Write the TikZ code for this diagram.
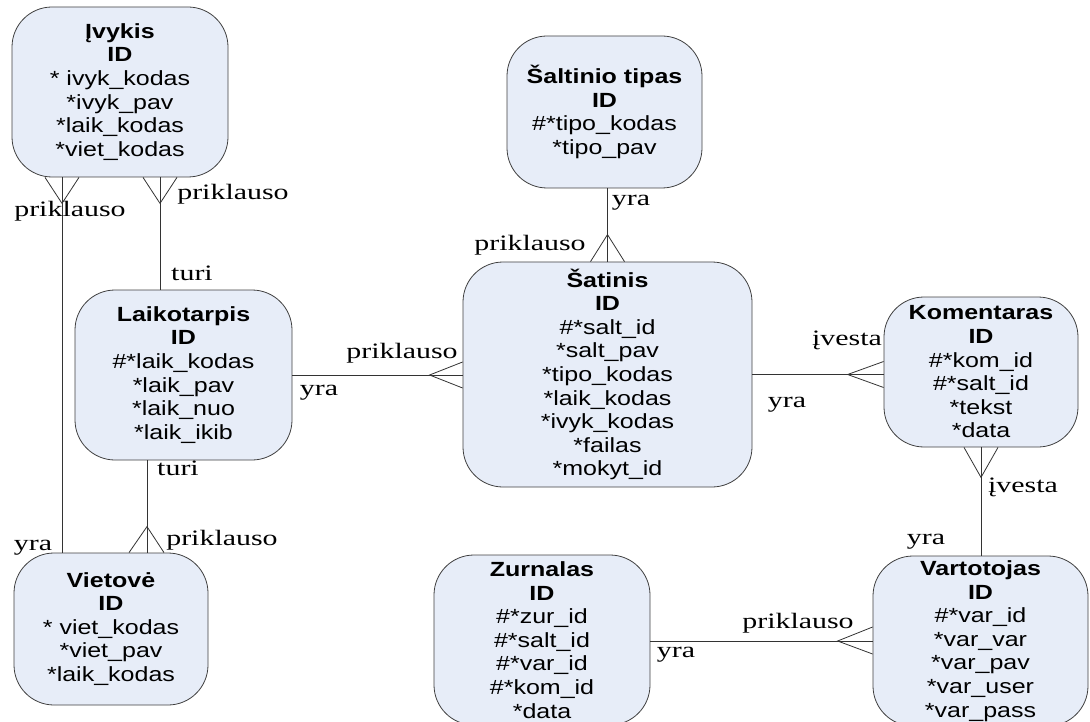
\documentclass[tikz,border=0pt]{standalone}
\usepackage{fontspec}
\setmainfont[FakeStretch=1.36]{Liberation Serif}
\setsansfont[FakeStretch=1.22]{Liberation Sans}
\usetikzlibrary{calc}

\definecolor{entfill}{RGB}{231,237,248}
\tikzset{
    entity/.style={draw=black!75, line width=0.8pt, fill=entfill, rounded corners=40pt,
        align=center, inner sep=0pt, font=\sffamily\fontsize{20.5}{23.6}\selectfont},
    rel/.style={draw=black!80, line width=0.8pt},
    lbl/.style={inner sep=0pt, text height=14.8pt, text depth=4.8pt,
        font=\fontsize{22}{24}\selectfont}
}

\begin{document}
\begin{tikzpicture}[x=1pt, y=-1pt]
    \useasboundingbox (0,0) rectangle (1090,722);

    % Entities
    \node[entity, minimum width=216pt, minimum height=170pt] (ivy) at (120,92)
        {\textbf{Įvykis}\\\textbf{ID}\\* ivyk\_kodas\\*ivyk\_pav\\*laik\_kodas\\*viet\_kodas};
    \node[entity, minimum width=217pt, minimum height=170pt] (lai) at (183.5,375)
        {\textbf{Laikotarpis}\\\textbf{ID}\\\#*laik\_kodas\\*laik\_pav\\*laik\_nuo\\*laik\_ikib};
    \node[entity, minimum width=194pt, minimum height=152pt] (vie) at (111,629)
        {\textbf{Vietovė}\\\textbf{ID}\\* viet\_kodas\\*viet\_pav\\*laik\_kodas};
    \node[entity, minimum width=195pt, minimum height=152pt] (sal) at (604.5,112)
        {\textbf{Šaltinio tipas}\\\textbf{ID}\\\#*tipo\_kodas\\*tipo\_pav};
    \node[entity, minimum width=289pt, minimum height=225pt] (sat) at (607.5,374.5)
        {\textbf{Šatinis}\\\textbf{ID}\\\#*salt\_id\\*salt\_pav\\*tipo\_kodas\\*laik\_kodas\\*ivyk\_kodas\\*failas\\*mokyt\_id};
    \node[entity, minimum width=194pt, minimum height=150pt] (kom) at (981,372)
        {\textbf{Komentaras}\\\textbf{ID}\\\#*kom\_id\\\#*salt\_id\\*tekst\\*data};
    \node[entity, minimum width=216pt, minimum height=170pt] (zur) at (542,640)
        {\textbf{Zurnalas}\\\textbf{ID}\\\#*zur\_id\\\#*salt\_id\\\#*var\_id\\\#*kom\_id\\*data};
    \node[entity, minimum width=215pt, minimum height=170pt] (var) at (980.5,641)
        {\textbf{Vartotojas}\\\textbf{ID}\\\#*var\_id\\*var\_var\\*var\_pav\\*var\_user\\*var\_pass};

    % Ivykis - Vietove
    \draw[rel] ($(ivy.south)+(-58,0)$) -- ($(vie.north)+(-49,0)$);
    \draw[rel] ($(ivy.south)+(-75,0)$) -- ($(ivy.south)+(-58,26)$) -- ($(ivy.south)+(-41,0)$);
    \node[lbl] (ivy-vie-a) at (70,212) {priklauso};
    \node[lbl] (ivy-vie-b) at (33,545) {yra};

    % Ivykis - Laikotarpis
    \draw[rel] ($(ivy.south)+(40,0)$) -- ($(lai.north)+(-23.5,0)$);
    \draw[rel] ($(ivy.south)+(23,0)$) -- ($(ivy.south)+(40,26)$) -- ($(ivy.south)+(57,0)$);
    \node[lbl] (ivy-lai-a) at (233,195) {priklauso};
    \node[lbl] (ivy-lai-b) at (192,275) {turi};

    % Laikotarpis - Vietove
    \draw[rel] ($(lai.south)+(-36.5,0)$) -- ($(vie.north)+(36,0)$);
    \draw[rel] ($(vie.north)+(18,0)$) -- ($(vie.north)+(36,-26)$) -- ($(vie.north)+(53,0)$);
    \node[lbl] (lai-vie-a) at (178,470) {turi};
    \node[lbl] (lai-vie-b) at (222,540) {priklauso};

    % Laikotarpis - Satinis
    \draw[rel] (lai.east) -- (lai.east -| sat.west);
    \draw[rel] ($(lai.east -| sat.west)+(0,-13)$) -- ($(lai.east -| sat.west)+(-33,0)$) -- ($(lai.east -| sat.west)+(0,13)$);
    \node[lbl] (lai-sat-a) at (402,353) {priklauso};
    \node[lbl] (lai-sat-b) at (319,390) {yra};

    % Saltinio tipas - Satinis
    \draw[rel] (sat.north |- sal.south) -- (sat.north);
    \draw[rel] ($(sat.north)+(-17,0)$) -- ($(sat.north)+(0,-27)$) -- ($(sat.north)+(17,0)$);
    \node[lbl] (sal-sat-a) at (631,201) {yra};
    \node[lbl] (sal-sat-b) at (530,246) {priklauso};

    % Satinis - Komentaras
    \draw[rel] (sat.east) -- (sat.east -| kom.west);
    \draw[rel] ($(sat.east -| kom.west)+(0,-13)$) -- ($(sat.east -| kom.west)+(-36,0)$) -- ($(sat.east -| kom.west)+(0,13)$);
    \node[lbl] (sat-kom-a) at (847,340) {įvesta};
    \node[lbl] (sat-kom-b) at (787,402) {yra};

    % Komentaras - Vartotojas
    \draw[rel] (kom.south) -- (kom.south |- var.north);
    \draw[rel] ($(kom.south)+(-17,0)$) -- ($(kom.south)+(0,30)$) -- ($(kom.south)+(17,0)$);
    \node[lbl] (kom-var-a) at (1023,487) {įvesta};
    \node[lbl] (kom-var-b) at (926,539) {yra};

    % Zurnalas - Vartotojas
    \draw[rel] (var.west -| zur.east) -- (var.west);
    \draw[rel] ($(var.west)+(0,-14)$) -- ($(var.west)+(-35,0)$) -- ($(var.west)+(0,13)$);
    \node[lbl] (zur-var-a) at (798,623) {priklauso};
    \node[lbl] (zur-var-b) at (676,652) {yra};
\end{tikzpicture}
\end{document}
